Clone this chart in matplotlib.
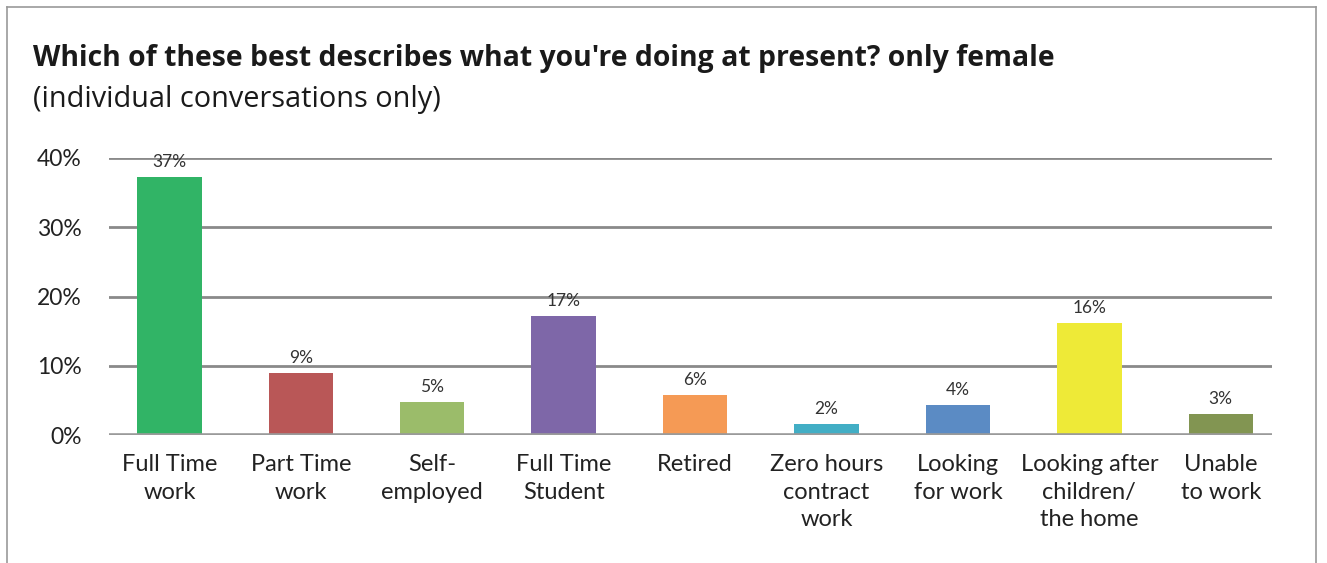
import matplotlib.pyplot as plt
from matplotlib.lines import Line2D

plt.rcParams['font.family'] = ['Lato', 'DejaVu Sans']

# survey answers (percent of female respondents)
categories = ['Full Time\nwork', 'Part Time\nwork', 'Self-\nemployed', 'Full Time\nStudent',
              'Retired', 'Zero hours\ncontract\nwork', 'Looking\nfor work',
              'Looking after\nchildren/\nthe home', 'Unable\nto work']
values = [37.3, 9.0, 4.8, 17.2, 5.8, 1.6, 4.3, 16.2, 3.0]
colors = ['#31B466', '#B95757', '#9BBC6A', '#7E67A8', '#F59A55',
          '#42AEC5', '#5B8BC4', '#EEEA37', '#829552']
yticks = [0, 10, 20, 30, 40]

fig = plt.figure(figsize=(13.27, 5.63), dpi=100)
ax = fig.add_axes([109 / 1327, 1 - 435 / 563, (1272 - 109) / 1327, (435 - 158) / 563])

x = range(len(categories))
bars = ax.bar(x, values, width=0.49, color=colors, zorder=3)

for b, v in zip(bars, values):
    ax.annotate(f'{v:.0f}%', (b.get_x() + b.get_width() / 2, v), xytext=(0, 5),
                textcoords='offset points', ha='center', va='bottom',
                fontsize=12.5, color='#333333')

ax.set_ylim(0, 40)
ax.set_xlim(-0.46, 8.39)
ax.set_yticks(yticks)
ax.set_yticklabels([f'{t}%' for t in yticks], fontsize=16.5, color='#222222')
ax.set_xticks(list(x))
ax.set_xticklabels(categories, fontsize=17, color='#222222', va='top')
for lbl in ax.get_xticklabels():
    lbl.set_linespacing(1.36)
ax.tick_params(axis='both', length=0)
ax.tick_params(axis='y', pad=19.5)
ax.tick_params(axis='x', pad=14)
ax.grid(axis='y', color='#8a8a8a', linewidth=2, zorder=0)
for s in ax.spines.values():
    s.set_visible(False)
ax.axhline(0, color='#9a9a9a', linewidth=2.6, zorder=4)

# title block
fig.text(33 / 1327, 1 - 66 / 563, "Which of these best describes what you're doing at present? only female",
         fontsize=20.4, fontweight='bold', family=['Open Sans', 'DejaVu Sans'],
         color='#1a1a1a', ha='left', va='baseline')
fig.text(33 / 1327, 1 - 107 / 563, '(individual conversations only)',
         fontsize=20.8, family=['Open Sans', 'DejaVu Sans'],
         color='#1a1a1a', ha='left', va='baseline')

# card border
W, H = 1327, 563
for xs, ys in [([7, 7], [563, 7]), ([7, 1316], [7, 7]), ([1316, 1316], [7, 563])]:
    fig.add_artist(Line2D([v / W for v in xs], [1 - v / H for v in ys],
                          color='#9a9a9a', linewidth=1.2))

fig.savefig('out.png', dpi=100)
